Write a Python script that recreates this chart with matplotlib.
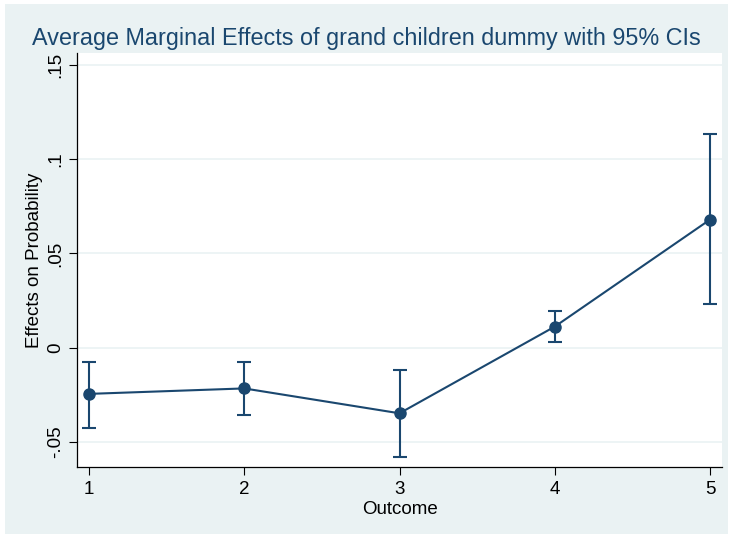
import matplotlib
matplotlib.use('Agg')
import matplotlib.pyplot as plt
from matplotlib.patches import Rectangle

plt.rcParams['font.family'] = ['Liberation Sans', 'DejaVu Sans']

# marginal effects by outcome
outcome = [1, 2, 3, 4, 5]
effect = [-0.0245, -0.0216, -0.0348, 0.0112, 0.068]
ci_low = [-0.0426, -0.0355, -0.0578, 0.0032, 0.0234]
ci_high = [-0.0074, -0.0074, -0.0117, 0.0195, 0.1133]
yticks = [-0.05, 0, 0.05, 0.1, 0.15]
ylabels = ['-.05', '0', '.05', '.1', '.15']

navy = '#1a476f'
bg = '#eaf2f3'

fig = plt.figure(figsize=(7.32, 5.38), dpi=100)
fig.patch.set_facecolor('white')
fig.patches.append(Rectangle((5/732, 4/538), 723/732, 530/538, transform=fig.transFigure,
                             facecolor=bg, edgecolor='none', zorder=-10))

ax = fig.add_axes([77/732, 1 - 467/538, 645/732, 414/538])
ax.set_facecolor('white')

for y in yticks:
    ax.axhline(y, color=bg, lw=1.2, zorder=0)

yerr = [[e - l for e, l in zip(effect, ci_low)], [h - e for e, h in zip(effect, ci_high)]]
ax.errorbar(outcome, effect, yerr=yerr, color=navy, lw=1.5, marker='o', ms=8,
            capsize=5, capthick=1.5, elinewidth=1.5, zorder=3)

ax.set_xlim(0.923, 5.077)
ax.set_ylim(-0.0633, 0.1564)
ax.set_xticks(outcome)
ax.set_yticks(yticks)
ax.set_yticklabels(ylabels, rotation=90, va='center')
ax.tick_params(labelsize=13.5, length=6, width=0.8, colors='black')
ax.tick_params(axis='x', pad=4)

for side in ['top', 'right']:
    ax.spines[side].set_visible(False)
for side in ['left', 'bottom']:
    ax.spines[side].set_color('black')
    ax.spines[side].set_linewidth(0.9)

ax.set_xlabel('Outcome', fontsize=13.5, labelpad=2)
ax.set_ylabel('Effects on Probability', fontsize=13.5, labelpad=3)
fig.text(0.5, 1 - 38/538, 'Average Marginal Effects of grand children dummy with 95% CIs',
         ha='center', va='center', fontsize=16.8, color=navy)

fig.savefig('out.png', dpi=100)
